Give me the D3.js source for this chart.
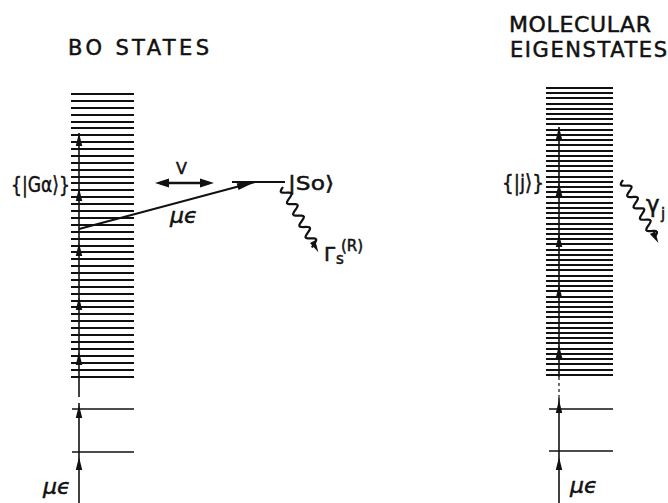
<!DOCTYPE html>
<html>
<head>
<meta charset="utf-8">
<script src="https://cdn.jsdelivr.net/npm/d3@7"></script>
<style>
  body { margin: 0; background: #fff; }
  text { font-family: "DejaVu Sans", sans-serif; fill: #111; stroke: #111; stroke-width: 0.5; }
</style>
</head>
<body>
<svg></svg>
<script>
// energies (arbitrary units, higher = up)
const boLevels = [409, 402, 395, 388, 381, 375, 368, 361, 354, 347, 340, 333, 326, 320,
    313, 306, 299, 292, 285, 278, 271, 264, 257, 251, 244, 237, 230, 223, 216, 209,
    202, 196, 189, 182, 175, 168, 161, 154, 147, 140, 133, 126];
const boLowLevels = [94, 51];
const meLevels = [415, 410, 405, 399, 394, 389, 384, 379, 373, 368, 363, 358, 352, 347,
    342, 337, 332, 326, 321, 316, 311, 306, 300, 295, 290, 285, 279, 274, 269, 264,
    259, 253, 248, 243, 238, 233, 227, 222, 217, 212, 206, 201, 196, 191, 186, 180,
    175, 170, 165, 160, 154, 149, 144, 139, 133, 128];
const meLowLevels = [94, 52];
const boPhotons = [370, 315, 260, 206, 151, 98, 46];
const mePhotons = [376, 320, 269, 218, 158, 103, 46];
const soEnergy = 321;
const pumpFrom = 274;

const size = {w: 668, h: 503};
const svg = d3.select('svg')
    .attr('width', size.w)
    .attr('height', size.h);

const y = d3.scaleLinear().domain([0, 503]).range([size.h, 0]);
const ink = '#111';

const cols = {
    bo: {x0: 71, x1: 134, low: 72, axis: 79},
    me: {x0: 546, x1: 613, low: 549, axis: 559}
};

// filled, elongated arrowhead with tip at (tx,ty) pointing along angle a
function head(tx, ty, a, len, wid) {
    const bx = tx - len * Math.cos(a), by = ty - len * Math.sin(a);
    const px = -Math.sin(a) * wid / 2, py = Math.cos(a) * wid / 2;
    return `M${tx},${ty}L${bx + px},${by + py}L${bx - px},${by - py}Z`;
}

function wavy(x0, y0, x1, y1, amp, wl) {
    const dx = x1 - x0, dy = y1 - y0, L = Math.hypot(dx, dy);
    const ux = dx / L, uy = dy / L;
    const pts = [];
    for (let s = 0; s <= L; s += 1) {
        const o = amp * Math.sin(2 * Math.PI * s / wl);
        pts.push([x0 + ux * s - uy * o, y0 + uy * s + ux * o]);
    }
    return d3.line()(pts);
}

function stack(c, levels, low, photons, dashedGap, lw) {
    const g = svg.append('g').attr('stroke', ink).attr('fill', 'none');
    g.selectAll('line.lev')
        .data(levels)
        .join('line').classed('lev', true)
        .attr('x1', c.x0).attr('x2', c.x1)
        .attr('y1', d => y(d)).attr('y2', d => y(d))
        .attr('stroke-width', lw)
        .attr('shape-rendering', 'crispEdges');
    g.selectAll('line.low')
        .data(low)
        .join('line').classed('low', true)
        .attr('x1', c.low).attr('x2', c.x1)
        .attr('y1', d => y(d)).attr('y2', d => y(d))
        .attr('stroke-width', 1.6);
    // photon ladder
    const top = y(d3.max(photons));
    const gapTop = y(d3.min(levels)) + 2, gapBot = y(photons[5]) - 2;
    g.append('line')
        .attr('x1', c.axis).attr('x2', c.axis)
        .attr('y1', top).attr('y2', gapTop + (dashedGap ? 0 : 18))
        .attr('stroke-width', 1.6);
    if (dashedGap) {
        g.append('line')
            .attr('x1', c.axis).attr('x2', c.axis)
            .attr('y1', gapTop).attr('y2', gapBot)
            .attr('stroke-width', 1.2)
            .attr('stroke-dasharray', '3,3');
    }
    g.append('line')
        .attr('x1', c.axis).attr('x2', c.axis)
        .attr('y1', gapBot).attr('y2', size.h)
        .attr('stroke-width', 1.6);
    svg.append('g').attr('fill', ink)
        .selectAll('path')
        .data(photons)
        .join('path')
        .attr('d', d => head(c.axis, y(d), -Math.PI / 2, 13, 6.5));
}

stack(cols.bo, boLevels, boLowLevels, boPhotons, false, 2);
stack(cols.me, meLevels, meLowLevels, mePhotons, true, 2);

// |So> level
svg.append('line')
    .attr('x1', 232).attr('x2', 285)
    .attr('y1', y(soEnergy)).attr('y2', y(soEnergy))
    .attr('stroke', ink).attr('stroke-width', 2);

// optical pump mu-epsilon
const p0 = [cols.bo.axis, y(pumpFrom)], p1 = [255, y(soEnergy)];
const ang = Math.atan2(p1[1] - p0[1], p1[0] - p0[0]);
svg.append('line')
    .attr('x1', p0[0]).attr('y1', p0[1]).attr('x2', p1[0]).attr('y2', p1[1])
    .attr('stroke', ink).attr('stroke-width', 1.9);
svg.append('path').attr('fill', ink).attr('d', head(p1[0], p1[1], ang, 18, 7));

// V coupling
const vy = y(soEnergy) + 1;
svg.append('line')
    .attr('x1', 160).attr('x2', 209).attr('y1', vy).attr('y2', vy)
    .attr('stroke', ink).attr('stroke-width', 2.4);
svg.append('path').attr('fill', ink).attr('d', head(155, vy, Math.PI, 14, 9));
svg.append('path').attr('fill', ink).attr('d', head(214, vy, 0, 14, 9));

// radiative decay wavy arrows
function decay(x0, y0, x1, y1) {
    svg.append('path')
        .attr('d', wavy(x0, y0, x1, y1, 4.2, 13))
        .attr('fill', 'none').attr('stroke', ink).attr('stroke-width', 2.2);
    const a = Math.atan2(y1 - y0, x1 - x0);
    svg.append('path').attr('fill', ink)
        .attr('d', head(x1 + 7 * Math.cos(a), y1 + 7 * Math.sin(a), a, 12, 6));
}
decay(283, 187, 315, 246);
decay(623, 180, 655, 237);

// titles
const title = (t, x, b, len, fs) => svg.append('text')
    .attr('x', x).attr('y', b).attr('font-size', fs)
    .attr('textLength', len).attr('lengthAdjust', 'spacing').text(t);
title('BO STATES', 68, 55, 141, 21);
title('MOLECULAR', 509, 32, 142, 22);
title('EIGENSTATES', 510, 57, 157, 21);

const label = (t, x, b, fs, len) => {
    const s = svg.append('text').attr('x', x).attr('y', b).attr('font-size', fs).text(t);
    if (len) s.attr('textLength', len).attr('lengthAdjust', 'spacingAndGlyphs');
    return s;
};
label('{|Gα⟩}', 11, 192, 22, 59);
label('|So⟩', 288, 190, 20, 46);
label('{|j⟩}', 502, 190, 22, 42);
label('V', 176, 174, 16);

const mu = (x, b) => label('μϵ', x, b, 22).attr('font-style', 'italic');
mu(170, 223);
mu(43, 494);
mu(570, 493);

label('Γ', 324, 261, 20);
label('s', 336, 264, 15);
label('(R)', 341, 251, 15);
label('γ', 646, 212, 23);
label('j', 661, 219, 15);
</script>
</body>
</html>
